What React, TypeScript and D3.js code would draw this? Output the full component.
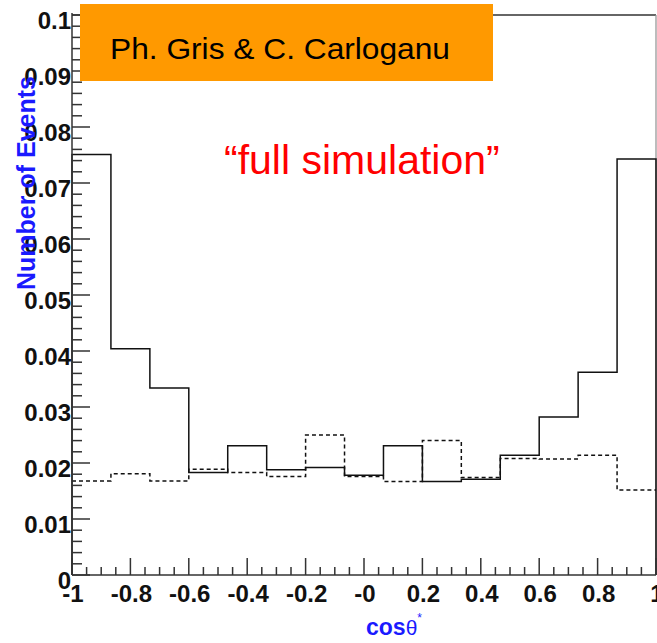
import React from "react";
import * as d3 from "d3";

const binEdges = [-1, -0.8667, -0.7333, -0.6, -0.4667, -0.3333, -0.2, -0.0667, 0.0667, 0.2, 0.3333, 0.4667, 0.6, 0.7333, 0.8667, 1];
const solidValues = [0.0751, 0.0404, 0.0334, 0.0183, 0.0231, 0.0188, 0.0192, 0.0178, 0.0231, 0.0167, 0.0171, 0.0214, 0.0282, 0.0362, 0.0743];
const dashedValues = [0.0168, 0.0181, 0.0168, 0.0189, 0.0183, 0.0176, 0.0250, 0.0176, 0.0167, 0.0240, 0.0174, 0.0208, 0.0207, 0.0214, 0.0152];
const yMajorTicks = [0, 0.01, 0.02, 0.03, 0.04, 0.05, 0.06, 0.07, 0.08, 0.09, 0.1];
const yTickLabels = ["0", "0.01", "0.02", "0.03", "0.04", "0.05", "0.06", "0.07", "0.08", "0.09", "0.1"];
const xMajorTicks = [-1, -0.8, -0.6, -0.4, -0.2, 0, 0.2, 0.4, 0.6, 0.8, 1];
const xTickLabels = ["-1", "-0.8", "-0.6", "-0.4", "-0.2", "-0", "0.2", "0.4", "0.6", "0.8", "1"];

const W = 657;
const H = 643;
const FONT = "'Liberation Sans', Arial, Helvetica, sans-serif";

export default function App() {
  const x = d3.scaleLinear().domain([-1, 1]).range([72, 656]);
  const y = d3.scaleLinear().domain([0, 0.1]).range([575, 15]);

  const yMinor = d3.range(0, 50).map((i) => i * 0.002).filter((v) => Math.round(v * 1000) % 10 !== 0);
  const xMinor = d3.range(0, 41).map((i) => -1 + i * 0.05).filter((v) => Math.abs(Math.round(v * 100) % 20) !== 0);

  const stepPts = (vals: number[], closeZero: boolean): [number, number][] => {
    const pts: [number, number][] = [];
    if (closeZero) pts.push([binEdges[0], 0]);
    vals.forEach((v, i) => {
      pts.push([binEdges[i], v]);
      pts.push([binEdges[i + 1], v]);
    });
    if (closeZero) pts.push([binEdges[binEdges.length - 1], 0]);
    return pts;
  };
  const line = d3
    .line<[number, number]>()
    .x((d) => x(d[0]))
    .y((d) => y(d[1]));

  const axisColor = "#333";

  return (
    <svg width={W} height={H} style={{ position: "absolute", left: 0, top: 0, background: "#fff" }}>
      <rect x={0} y={0} width={W} height={H} fill="#fff" />
      {/* frame */}
      <line x1={x(-1)} x2={x(1)} y1={y(0.1)} y2={y(0.1)} stroke="#333" strokeWidth={1.3} />
      <line x1={x(1)} x2={x(1)} y1={y(0.1)} y2={y(0)} stroke="#999" strokeWidth={1.3} />

      {/* histograms */}
      <path d={line(stepPts(dashedValues, false)) || ""} fill="none" stroke="#111" strokeWidth={1.5} strokeDasharray="4,3" />
      <path d={line(stepPts(solidValues, true)) || ""} fill="none" stroke="#111" strokeWidth={1.5} />

      {/* y axis */}
      <line x1={x(-1)} x2={x(-1)} y1={y(0.1) - 2} y2={y(0)} stroke={axisColor} strokeWidth={1.5} />
      {yMajorTicks.map((t) => (
        <line key={"ym" + t} x1={x(-1)} x2={x(-1) + 18} y1={y(t)} y2={y(t)} stroke={axisColor} strokeWidth={1.5} />
      ))}
      {yMinor.map((t) => (
        <line key={"yn" + t} x1={x(-1)} x2={x(-1) + 10} y1={y(t)} y2={y(t)} stroke={axisColor} strokeWidth={1.5} />
      ))}
      {yMajorTicks.map((t, i) => (
        <text key={"yl" + t} x={71} y={y(t) + 14} textAnchor="end" fontFamily={FONT} fontWeight="bold" fontSize={24} fill="#111">
          {yTickLabels[i]}
        </text>
      ))}

      {/* x axis */}
      <line x1={x(-1)} x2={x(1)} y1={y(0)} y2={y(0)} stroke={axisColor} strokeWidth={1.5} />
      {xMajorTicks.map((t) => (
        <line key={"xm" + t} x1={x(t)} x2={x(t)} y1={y(0)} y2={y(0) - 17} stroke={axisColor} strokeWidth={1.5} />
      ))}
      {xMinor.map((t) => (
        <line key={"xn" + t} x1={x(t)} x2={x(t)} y1={y(0)} y2={y(0) - 8} stroke={axisColor} strokeWidth={1.5} />
      ))}
      {xMajorTicks.map((t, i) => (
        <text key={"xl" + t} x={x(t) + 1} y={602} textAnchor="middle" fontFamily={FONT} fontWeight="bold" fontSize={24} fill="#111">
          {xTickLabels[i]}
        </text>
      ))}

      {/* axis titles */}
      <text
        transform="translate(35,183) rotate(-90)"
        textAnchor="middle"
        fontFamily={FONT}
        fontWeight="bold"
        fontSize={25}
        fill="#1a1aff"
      >
        Number of Events
      </text>
      <text x={366} y={635} fontFamily={FONT} fill="#1a1aff">
        <tspan fontWeight="bold" fontSize={23}>cos</tspan>
        <tspan fontSize={21}>θ</tspan>
        <tspan fontSize={12} dy={-13}>*</tspan>
      </text>

      {/* annotations */}
      <rect x={80} y={4} width={413} height={77} fill="#ff9900" />
      <text x={110} y={59} fontFamily={FONT} fontSize={30} textLength={340} lengthAdjust="spacingAndGlyphs" fill="#000">
        Ph. Gris &amp; C. Carloganu
      </text>
      <text x={224} y={174} fontFamily={FONT} fontSize={41} fill="#ff0000">
        “full simulation”
      </text>
    </svg>
  );
}
